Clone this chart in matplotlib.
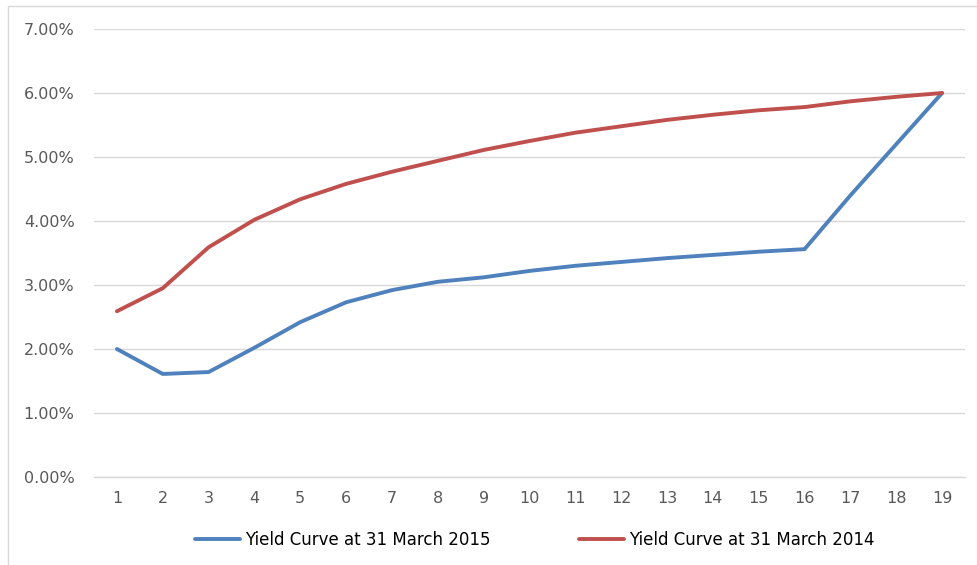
import numpy as np
import matplotlib.pyplot as plt
from matplotlib.patches import Rectangle
from matplotlib.ticker import FuncFormatter

# maturities (years)
maturity = list(range(1, 20))

# yields in %
curve_2015 = [2.00, 1.61, 1.64, 2.02, 2.42, 2.73, 2.92, 3.05, 3.12, 3.22,
              3.30, 3.36, 3.42, 3.47, 3.52, 3.56, 4.40, 5.20, 6.00]
curve_2014 = [2.59, 2.95, 3.59, 4.02, 4.34, 4.58, 4.77, 4.94, 5.11, 5.25,
              5.38, 5.48, 5.58, 5.66, 5.73, 5.78, 5.87, 5.94, 6.00]

label_2015 = 'Yield Curve at 31 March 2015'
label_2014 = 'Yield Curve at 31 March 2014'

W, H = 977, 565
fig = plt.figure(figsize=(W / 100, H / 100), dpi=100)
ax = fig.add_axes([94 / W, (H - 477) / H, (965 - 94) / W, (477 - 29) / H])

ax.plot(maturity, np.array(curve_2015) / 100, color='#4F81BD', lw=2.8,
        solid_joinstyle='round', solid_capstyle='round', label=label_2015)
ax.plot(maturity, np.array(curve_2014) / 100, color='#C0504D', lw=2.8,
        solid_joinstyle='round', solid_capstyle='round', label=label_2014)

ax.set_xlim(0.5, 19.5)
ax.set_ylim(0, 0.07)
ax.set_xticks(maturity)
ax.set_yticks(np.arange(0, 0.0701, 0.01))
ax.yaxis.set_major_formatter(FuncFormatter(lambda v, p: '%.2f%%' % (v * 100)))

ax.grid(axis='y', color='#D9D9D9', lw=1)
ax.set_axisbelow(True)
for s in ['top', 'right', 'left']:
    ax.spines[s].set_visible(False)
ax.spines['bottom'].set_color('#D9D9D9')
ax.spines['bottom'].set_linewidth(1)
ax.tick_params(axis='both', length=0, labelsize=11.5, colors='#595959')
ax.tick_params(axis='y', pad=14)
ax.tick_params(axis='x', pad=10)

fig.legend(loc='center', bbox_to_anchor=(535 / W, (H - 540) / H), ncol=2,
           frameon=False, fontsize=12, handlelength=2.7, handletextpad=0.3,
           columnspacing=5.3)

# chart border
fig.patches.append(Rectangle((8 / W, -0.05), 1.1, (H - 6) / H + 0.05,
                             transform=fig.transFigure, fill=False,
                             edgecolor='#D9D9D9', lw=1, clip_on=False))

fig.savefig('out.png', dpi=100)
